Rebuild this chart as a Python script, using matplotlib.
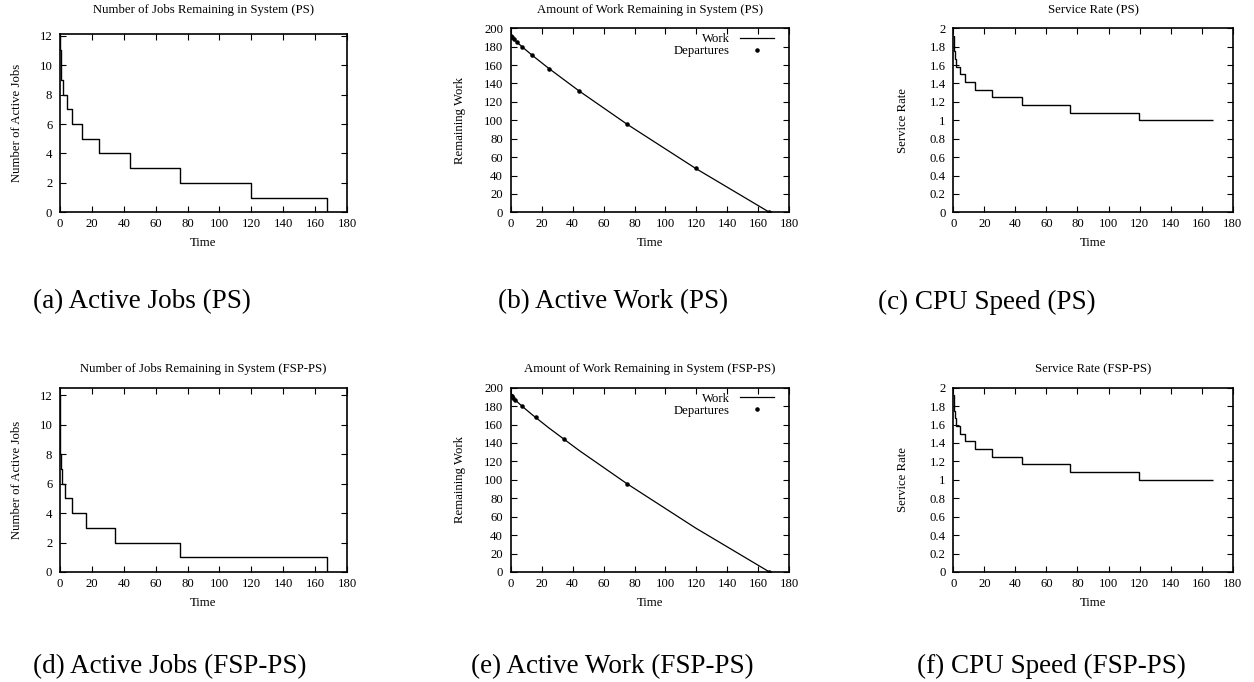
import matplotlib
matplotlib.use("Agg")
import matplotlib.pyplot as plt

plt.rcParams['font.family'] = ['Liberation Serif', 'DejaVu Serif']

# PS: departure times, jobs left, work left at each departure
ps_times = [0, 0.15, 0.4, 0.8, 1.9, 4.2, 7.5, 13.8, 24.7, 44.2, 75.3, 119.5, 167.2]
ps_jobs = [12, 11, 10, 9, 8, 7, 6, 5, 4, 3, 2, 1, 0]
work_left = [191.6, 191.3, 190.8, 190.1, 188.3, 184.7, 179.7, 170.8, 156.3, 131.9, 95.6, 47.7, 0]
# CPU speed between departures (same for both policies)
service_rate = [1.917, 1.833, 1.75, 1.667, 1.583, 1.5, 1.417, 1.333, 1.25, 1.167, 1.083, 1.0]

# FSP-PS departures
fsp_times = [0, 0.05, 0.1, 0.2, 0.3, 0.6, 1.5, 3.1, 7.5, 16.1, 34.7, 75.3, 167.2]
fsp_jobs = [12, 11, 10, 9, 8, 7, 6, 5, 4, 3, 2, 1, 0]
fsp_dep_work = [191.6, 191.5, 191.4, 191.2, 191.0, 190.5, 189.0, 186.4, 179.7, 167.7, 143.8, 95.6, 0]

W, H = 1254, 682
FS = 9.2
fig = plt.figure(figsize=(12.54, 6.82), dpi=100)


def make_axes(left, top, right, bottom, title, ylabel, ylab_x):
    ax = fig.add_axes([left / W, 1 - bottom / H, (right - left) / W, (bottom - top) / H])
    ax.set_xlim(0, 180)
    ax.set_xticks(range(0, 181, 20))
    ax.tick_params(direction='in', top=True, right=True, length=4, width=0.8,
                   labelsize=FS)
    ax.tick_params(axis='x', pad=4.3)
    ax.tick_params(axis='y', pad=5.5)
    for s in ax.spines.values():
        s.set_linewidth(1.2)
    hpx = bottom - top
    wpx = right - left
    title_y = 10 if top < 300 else 369
    ax.set_title(title, fontsize=FS, y=1 + (top - title_y) / hpx, va='center', pad=0)
    ax.set_xlabel('Time', fontsize=FS)
    ax.xaxis.set_label_coords(0.5, -31 / hpx)
    ax.xaxis.label.set_va('center')
    ax.set_ylabel(ylabel, fontsize=FS, va='center')
    ax.yaxis.set_label_coords((ylab_x - left) / wpx, 0.5)
    return ax


def jobs_panel(ax, times, jobs, ytop):
    ax.step(times, jobs, where='post', color='black', lw=1.0)
    ax.set_ylim(0, ytop)
    ax.set_yticks(range(0, 13, 2))


def work_panel(ax, dep_times, dep_work):
    ax.plot(ps_times, work_left, color='black', lw=0.9, label='Work')
    ax.plot(dep_times[1:], dep_work[1:], 'k.', ms=4.5, label='Departures')
    ax.set_ylim(0, 200)
    ax.set_yticks(range(0, 201, 20))
    ax.legend(loc='upper right', frameon=False, markerfirst=False, fontsize=FS,
              handlelength=2.6, labelspacing=0.0, numpoints=1,
              bbox_to_anchor=(0.962, 1.0), borderaxespad=0)


def rate_panel(ax):
    ax.stairs(service_rate, ps_times, baseline=None, color='black', lw=1.0)
    ax.set_ylim(0, 2)
    ax.set_yticks([0, 0.2, 0.4, 0.6, 0.8, 1, 1.2, 1.4, 1.6, 1.8, 2])
    ax.set_yticklabels(['0', '0.2', '0.4', '0.6', '0.8', '1', '1.2', '1.4', '1.6', '1.8', '2'])


# top row (PS)
ax = make_axes(60, 34.3, 347, 212.3, 'Number of Jobs Remaining in System (PS)',
               'Number of Active Jobs', 17)
jobs_panel(ax, ps_times, ps_jobs, 12.1)
ax = make_axes(510.7, 28.3, 789.3, 212.3, 'Amount of Work Remaining in System (PS)',
               'Remaining Work', 460)
work_panel(ax, ps_times, work_left)
ax = make_axes(953.3, 28.3, 1232.7, 212.3, 'Service Rate (PS)', 'Service Rate', 903)
rate_panel(ax)

# bottom row (FSP-PS)
ax = make_axes(60, 387.7, 347, 572, 'Number of Jobs Remaining in System (FSP-PS)',
               'Number of Active Jobs', 17)
jobs_panel(ax, fsp_times, fsp_jobs, 12.5)
ax = make_axes(510.7, 387.7, 789.3, 572, 'Amount of Work Remaining in System (FSP-PS)',
               'Remaining Work', 460)
work_panel(ax, fsp_times, fsp_dep_work)
ax = make_axes(953.3, 387.7, 1232.7, 572, 'Service Rate (FSP-PS)', 'Service Rate', 903)
rate_panel(ax)

captions = [('(a) Active Jobs (PS)', 33, 302), ('(b) Active Work (PS)', 498, 302),
            ('(c) CPU Speed (PS)', 878, 302), ('(d) Active Jobs (FSP-PS)', 33, 666.7),
            ('(e) Active Work (FSP-PS)', 471, 666.7), ('(f) CPU Speed (FSP-PS)', 917, 666.7)]
for txt, x, y in captions:
    fig.text(x / W, 1 - y / H, txt, fontsize=19.5, ha='left', va='center')

fig.savefig('out.png', dpi=100)
